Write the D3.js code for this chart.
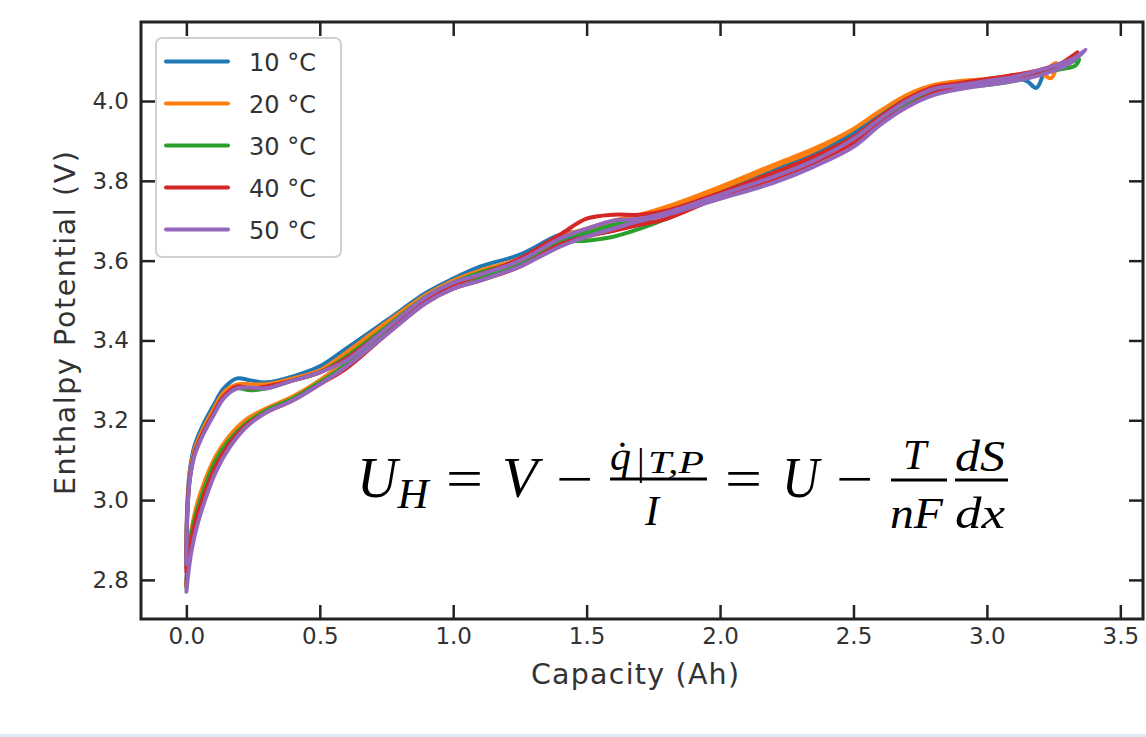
<!DOCTYPE html>
<html>
<head>
<meta charset="utf-8">
<script src="https://cdn.jsdelivr.net/npm/d3@7/dist/d3.min.js"></script>
<style>
  body { margin: 0; background: #fff; }
  svg { display: block; }
  .axis text { font-family: "DejaVu Sans", sans-serif; font-size: 23px; fill: #333; }
  .axis line { stroke: #222; stroke-width: 2.5; }
  .axis path { display: none; }
  .label { font-family: "DejaVu Sans", sans-serif; font-size: 28.5px; fill: #333; }
  .legend text { font-family: "DejaVu Sans", sans-serif; font-size: 24px; fill: #333; }
  .eq { font-family: "Liberation Serif", serif; font-style: italic; fill: #000; }
  .eq .up { font-style: normal; }
</style>
</head>
<body>
<svg></svg>
<script>

// series
const labels = ['10 °C', '20 °C', '30 °C', '40 °C', '50 °C'];
const colors = ['#1f77b4', '#ff7f0e', '#2ca02c', '#d62728', '#9467bd'];

// forward branch capacities (Ah)
const fwdCap = [0.000, 0.008, 0.02, 0.04, 0.07, 0.11, 0.16, 0.22, 0.30, 0.40, 0.50, 0.60, 0.75, 0.90, 1.00, 1.10,
  1.25, 1.40, 1.50, 1.60, 1.70, 1.80, 2.00, 2.20, 2.35, 2.50, 2.60, 2.70, 2.80, 2.90, 3.00, 3.10];
// return branch capacities (Ah)
const retCap = [3.10, 3.00, 2.90, 2.80, 2.70, 2.60, 2.50, 2.35, 2.20, 2.00, 1.80, 1.70, 1.60, 1.50, 1.40, 1.25,
  1.10, 1.00, 0.90, 0.75, 0.60, 0.50, 0.40, 0.30, 0.24, 0.19, 0.14, 0.10, 0.06, 0.03, 0.012, 0.003, 0.000];

// enthalpy potential (V), forward branch
const fwd10 = [2.80, 2.87, 2.925, 2.98, 3.04, 3.10, 3.15, 3.19, 3.225, 3.255, 3.30, 3.345, 3.43, 3.505, 3.535, 3.56,
  3.595, 3.65, 3.665, 3.675, 3.695, 3.72, 3.775, 3.825, 3.865, 3.915, 3.96, 4.00, 4.03, 4.04, 4.045, 4.058];
const fwd20 = [2.79, 2.87, 2.93, 2.99, 3.05, 3.11, 3.16, 3.20, 3.23, 3.26, 3.30, 3.35, 3.44, 3.51, 3.54, 3.565,
  3.60, 3.655, 3.675, 3.70, 3.715, 3.73, 3.78, 3.835, 3.875, 3.93, 3.975, 4.015, 4.04, 4.05, 4.055, 4.062];
const fwd30 = [2.78, 2.86, 2.92, 2.975, 3.035, 3.10, 3.15, 3.19, 3.225, 3.255, 3.295, 3.34, 3.425, 3.50, 3.53, 3.555,
  3.59, 3.645, 3.65, 3.66, 3.68, 3.705, 3.765, 3.815, 3.855, 3.905, 3.95, 3.99, 4.025, 4.035, 4.04, 4.05];
const fwd40 = [2.785, 2.85, 2.905, 2.96, 3.02, 3.085, 3.14, 3.185, 3.22, 3.25, 3.29, 3.33, 3.415, 3.495, 3.53, 3.55,
  3.585, 3.64, 3.66, 3.675, 3.69, 3.705, 3.76, 3.805, 3.845, 3.895, 3.945, 3.985, 4.02, 4.035, 4.045, 4.055];
const fwd50 = [2.77, 2.82, 2.875, 2.935, 3.00, 3.07, 3.13, 3.18, 3.22, 3.25, 3.29, 3.335, 3.415, 3.495, 3.53, 3.55,
  3.585, 3.635, 3.66, 3.68, 3.70, 3.715, 3.755, 3.795, 3.835, 3.885, 3.94, 3.985, 4.015, 4.03, 4.04, 4.05];

// end of charge, [capacity, potential]
const tail10 = [[3.15, 4.05], [3.185, 4.033], [3.21, 4.078], [3.17, 4.068]];
const tail20 = [[3.20, 4.07], [3.24, 4.057], [3.26, 4.095], [3.22, 4.08]];
const tail30 = [[3.20, 4.07], [3.28, 4.08], [3.33, 4.088], [3.345, 4.105], [3.30, 4.092], [3.20, 4.075]];
const tail40 = [[3.20, 4.075], [3.28, 4.095], [3.34, 4.122], [3.30, 4.10], [3.20, 4.078]];
const tail50 = [[3.20, 4.065], [3.30, 4.09], [3.37, 4.128], [3.32, 4.105], [3.20, 4.078]];

// enthalpy potential (V), return branch
const ret10 = [4.063, 4.052, 4.045, 4.035, 4.01, 3.97, 3.925, 3.875, 3.835, 3.78, 3.725, 3.70, 3.685, 3.675, 3.665, 3.615,
  3.585, 3.555, 3.52, 3.45, 3.38, 3.335, 3.31, 3.295, 3.30, 3.305, 3.28, 3.235, 3.185, 3.135, 3.07, 2.98, 2.86];
const ret20 = [4.065, 4.055, 4.05, 4.04, 4.015, 3.975, 3.93, 3.88, 3.84, 3.785, 3.735, 3.715, 3.70, 3.68, 3.66, 3.605,
  3.575, 3.55, 3.515, 3.445, 3.37, 3.325, 3.305, 3.29, 3.29, 3.29, 3.27, 3.225, 3.175, 3.125, 3.06, 2.97, 2.85];
const ret30 = [4.06, 4.05, 4.04, 4.03, 4.005, 3.96, 3.91, 3.86, 3.82, 3.77, 3.72, 3.70, 3.69, 3.67, 3.655, 3.60,
  3.57, 3.545, 3.51, 3.435, 3.36, 3.32, 3.30, 3.28, 3.275, 3.28, 3.26, 3.215, 3.165, 3.115, 3.05, 2.96, 2.83];
const ret40 = [4.065, 4.055, 4.045, 4.035, 4.005, 3.96, 3.91, 3.86, 3.82, 3.77, 3.725, 3.715, 3.715, 3.705, 3.665, 3.605,
  3.565, 3.54, 3.505, 3.43, 3.355, 3.32, 3.30, 3.285, 3.28, 3.285, 3.26, 3.215, 3.165, 3.115, 3.05, 2.96, 2.82];
const ret50 = [4.06, 4.05, 4.04, 4.03, 4.00, 3.955, 3.905, 3.85, 3.81, 3.765, 3.72, 3.705, 3.70, 3.68, 3.655, 3.60,
  3.565, 3.545, 3.51, 3.43, 3.35, 3.32, 3.30, 3.28, 3.282, 3.28, 3.255, 3.21, 3.16, 3.11, 3.045, 2.95, 2.84];

const xTicks = [0.0, 0.5, 1.0, 1.5, 2.0, 2.5, 3.0, 3.5];
const yTicks = [2.8, 3.0, 3.2, 3.4, 3.6, 3.8, 4.0];

const fwdAll = [fwd10, fwd20, fwd30, fwd40, fwd50];
const tailAll = [tail10, tail20, tail30, tail40, tail50];
const retAll = [ret10, ret20, ret30, ret40, ret50];

const series = labels.map(function (name, i) {
  const pts = fwdCap.map((c, j) => [c, fwdAll[i][j]])
    .concat(tailAll[i])
    .concat(retCap.map((c, j) => [c, retAll[i][j]]));
  return { name: name, color: colors[i], points: pts };
});

const width = 1146, height = 737;
const margin = { top: 22, right: 3, bottom: 118, left: 141 };
const plotW = width - margin.left - margin.right;
const plotH = height - margin.top - margin.bottom;

const svg = d3.select('svg')
  .attr('width', width)
  .attr('height', height);

const x = d3.scaleLinear().domain([-0.17, 3.585]).range([0, plotW]);
const y = d3.scaleLinear().domain([2.702, 4.198]).range([plotH, 0]);

const g = svg.append('g')
  .attr('transform', 'translate(' + margin.left + ',' + margin.top + ')');

g.append('defs').append('clipPath').attr('id', 'clip')
  .append('rect').attr('width', plotW).attr('height', plotH);

// axes, ticks pointing in
g.append('g').attr('class', 'axis')
  .attr('transform', 'translate(0,' + plotH + ')')
  .call(d3.axisBottom(x).tickValues(xTicks).tickFormat(d3.format('.1f')).tickSize(-14).tickSizeOuter(0).tickPadding(9));
g.append('g').attr('class', 'axis')
  .call(d3.axisTop(x).tickValues(xTicks).tickFormat('').tickSize(-14).tickSizeOuter(0));
g.append('g').attr('class', 'axis')
  .call(d3.axisLeft(y).tickValues(yTicks).tickFormat(d3.format('.1f')).tickSize(-14).tickSizeOuter(0).tickPadding(12));
g.append('g').attr('class', 'axis')
  .attr('transform', 'translate(' + plotW + ',0)')
  .call(d3.axisRight(y).tickValues(yTicks).tickFormat('').tickSize(-14).tickSizeOuter(0));

const line = d3.line()
  .x(d => x(d[0]))
  .y(d => y(d[1]))
  .curve(d3.curveCatmullRom.alpha(0.5));

g.append('g').attr('clip-path', 'url(#clip)')
  .selectAll('path')
  .data(series)
  .join('path')
    .attr('fill', 'none')
    .attr('stroke', d => d.color)
    .attr('stroke-width', 4)
    .attr('stroke-linejoin', 'round')
    .attr('stroke-linecap', 'round')
    .attr('d', d => line(d.points));

// frame
g.append('rect')
  .attr('width', plotW)
  .attr('height', plotH)
  .attr('fill', 'none')
  .attr('stroke', '#222')
  .attr('stroke-width', 3);

// axis labels
svg.append('text').attr('class', 'label')
  .attr('x', 531).attr('y', 684)
  .attr('textLength', 208).attr('lengthAdjust', 'spacing')
  .text('Capacity (Ah)');
svg.append('text').attr('class', 'label')
  .attr('transform', 'translate(75,495) rotate(-90)')
  .attr('textLength', 344).attr('lengthAdjust', 'spacing')
  .text('Enthalpy Potential (V)');

// legend
const legend = svg.append('g').attr('class', 'legend')
  .attr('transform', 'translate(156,38)');
legend.append('rect')
  .attr('width', 185).attr('height', 219)
  .attr('rx', 6)
  .attr('fill', '#fff').attr('fill-opacity', 0.8)
  .attr('stroke', '#d0d0d0').attr('stroke-width', 2);
const item = legend.selectAll('.item')
  .data(series)
  .join('g')
    .attr('class', 'item')
    .attr('transform', (d, i) => 'translate(0,' + (23.5 + i * 42) + ')');
item.append('line')
  .attr('x1', 10).attr('x2', 72)
  .attr('stroke', d => d.color)
  .attr('stroke-width', 4)
  .attr('stroke-linecap', 'round');
item.append('text')
  .attr('x', 93).attr('y', 9)
  .text(d => d.name);

// equation
const eq = svg.append('g').attr('class', 'eq');
function piece(txt, px, py, size, len, cls, adj) {
  const t = eq.append('text')
    .attr('x', px).attr('y', py)
    .style('font-size', size + 'px')
    .text(txt);
  if (len) t.attr('textLength', len).attr('lengthAdjust', adj || 'spacingAndGlyphs');
  if (cls) t.attr('class', cls);
  return t;
}
function bar(x1, x2, yy) {
  eq.append('line').attr('x1', x1).attr('x2', x2).attr('y1', yy).attr('y2', yy)
    .attr('stroke', '#000').attr('stroke-width', 3);
}
// U with subscript H as one text
const uh = eq.append('text').attr('x', 357).attr('y', 497);
uh.append('tspan').style('font-size', '56px').text('U');
uh.append('tspan').style('font-size', '43px').attr('dy', 11).text('H');

piece('=', 446, 497, 54, 37, 'up');
piece('V', 502, 497, 58);
piece('\u2212', 556, 497, 54, 37, 'up');
piece('q\u0307', 610, 470, 42);
piece('|', 637, 475, 38, null, 'up');
piece('T,P', 648, 473, 31, 56);
bar(610, 707, 479);
piece('I', 645, 525, 42);
piece('=', 725, 497, 54, 37, 'up');
piece('U', 782, 497, 58, 37);
piece('\u2212', 836, 497, 54, 37, 'up');
piece('T', 903, 469, 42);
bar(891, 947, 480);
piece('nF', 890, 528, 44, 53);
piece('dS', 955, 471, 44, 50);
bar(955, 1008, 480);
piece('dx', 955, 528, 44, 50);

// light strip at page foot
svg.append('rect')
  .attr('x', 0).attr('y', 734)
  .attr('width', width).attr('height', 3)
  .attr('fill', '#dcedf8');

</script>
</body>
</html>
